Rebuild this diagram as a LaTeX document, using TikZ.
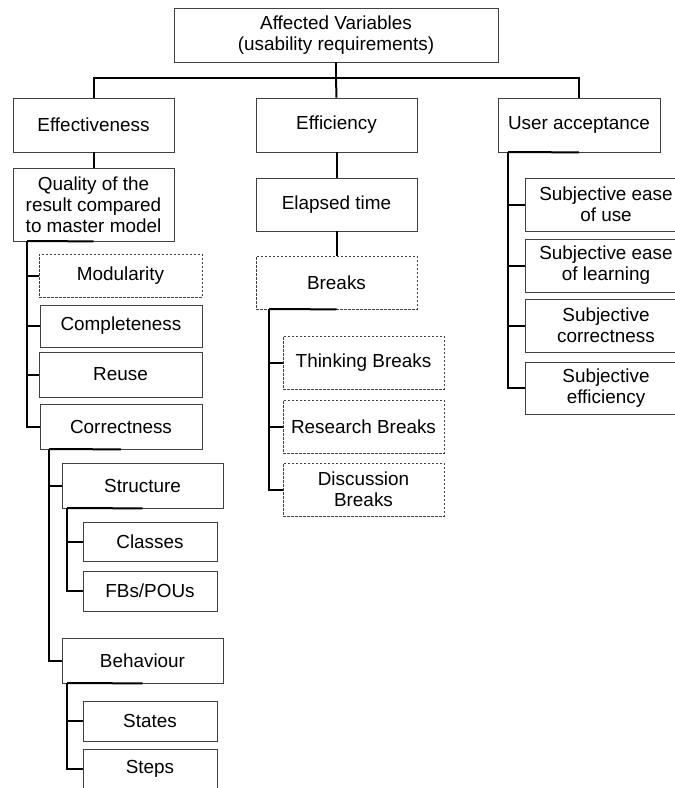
\documentclass[tikz,border=0pt]{standalone}
\usepackage{fontspec}
\setmainfont{Liberation Sans}
\tikzset{
  box/.style={draw=black!75,line width=0.8pt,inner sep=0pt,align=center,font=\fontsize{18.9}{21}\selectfont},
  dbox/.style={box,dash pattern=on 2.5pt off 1.5pt},
  conn/.style={line width=2pt,black}
}
\begin{document}
\begin{tikzpicture}[x=1pt,y=-1pt]
\useasboundingbox (0,0) rectangle (675,788);
\node[box,minimum width=324,minimum height=54] (root) at (336,35) {Affected Variables\\(usability requirements)};
\node[box,minimum width=161,minimum height=54] (eff) at (93.5,125) {Effectiveness};
\node[box,minimum width=161,minimum height=54] (effi) at (336.5,125) {Efficiency};
\node[box,minimum width=162,minimum height=54] (ua) at (579,125) {User acceptance};
\node[box,minimum width=161,minimum height=73] (qual) at (93.5,204.5) {Quality of the\\result compared\\to master model};
\node[box,minimum width=161,minimum height=53] (elap) at (336.5,204.5) {Elapsed time};
\node[dbox,minimum width=163,minimum height=43] (mod) at (120.5,275.5) {Modularity};
\node[box,minimum width=162,minimum height=42] (comp) at (121,326) {Completeness};
\node[box,minimum width=163,minimum height=45] (reuse) at (120.5,374.5) {Reuse};
\node[box,minimum width=162,minimum height=45] (corr) at (121,426.5) {Correctness};
\node[box,minimum width=161,minimum height=45] (struc) at (142.5,485.5) {Structure};
\node[box,minimum width=134,minimum height=39] (cls) at (150,541.5) {Classes};
\node[box,minimum width=134,minimum height=40] (fbs) at (150,591) {FBs/POUs};
\node[box,minimum width=161,minimum height=45] (beh) at (142.5,660.5) {Behaviour};
\node[box,minimum width=134,minimum height=40] (states) at (150,721) {States};
\node[box,minimum width=134,minimum height=40] (steps) at (150,769) {Steps};
\node[dbox,minimum width=161,minimum height=53] (brk) at (336.5,282.5) {Breaks};
\node[dbox,minimum width=161,minimum height=53] (think) at (363.5,362.5) {Thinking Breaks};
\node[dbox,minimum width=161,minimum height=53] (research) at (363.5,426.5) {Research Breaks};
\node[dbox,minimum width=161,minimum height=53] (disc) at (363.5,489.5) {Discussion\\Breaks};
\node[box,minimum width=162,minimum height=53] (subuse) at (606,204.5) {Subjective ease\\of use};
\node[box,minimum width=162,minimum height=53] (sublearn) at (606,265.5) {Subjective ease\\of learning};
\node[box,minimum width=162,minimum height=53] (subcorr) at (606,325.5) {Subjective\\correctness};
\node[box,minimum width=162,minimum height=52] (subeff) at (606,388) {Subjective\\efficiency};
\coordinate (topbus) at (336,78);
\coordinate (qbus) at (27,241);
\coordinate (cbus) at (49,449);
\coordinate (sbus) at (67,508);
\coordinate (bbus) at (67,683);
\coordinate (kbus) at (269,309);
\coordinate (ubus) at (508,152);
\draw[conn] (root.south) -- (topbus);
\draw[conn] (topbus) -| (eff.north);
\draw[conn] (topbus) -| (ua.north);
\draw[conn] (topbus) -- (effi.north);
\draw[conn] (eff.south) -- (qual.north);
\draw[conn] (effi.south) -- (elap.north);
\draw[conn] (elap.south) -- (brk.north);
\draw[conn] (qual.south) -- (qbus);
\draw[conn] (qbus) |- (mod.west);
\draw[conn] (qbus) |- (comp.west);
\draw[conn] (qbus) |- (reuse.west);
\draw[conn] (qbus) |- (corr.west);
\draw[conn] (corr.south) -- (cbus);
\draw[conn] (cbus) |- (struc.west);
\draw[conn] (cbus) |- (beh.west);
\draw[conn] (struc.south) -- (sbus);
\draw[conn] (sbus) |- (cls.west);
\draw[conn] (sbus) |- (fbs.west);
\draw[conn] (beh.south) -- (bbus);
\draw[conn] (bbus) |- (states.west);
\draw[conn] (bbus) |- (steps.west);
\draw[conn] (brk.south) -- (kbus);
\draw[conn] (kbus) |- (think.west);
\draw[conn] (kbus) |- (research.west);
\draw[conn] (kbus) |- (disc.west);
\draw[conn] (ua.south) -- (ubus);
\draw[conn] (ubus) |- (subuse.west);
\draw[conn] (ubus) |- (sublearn.west);
\draw[conn] (ubus) |- (subcorr.west);
\draw[conn] (ubus) |- (subeff.west);
\end{tikzpicture}
\end{document}
